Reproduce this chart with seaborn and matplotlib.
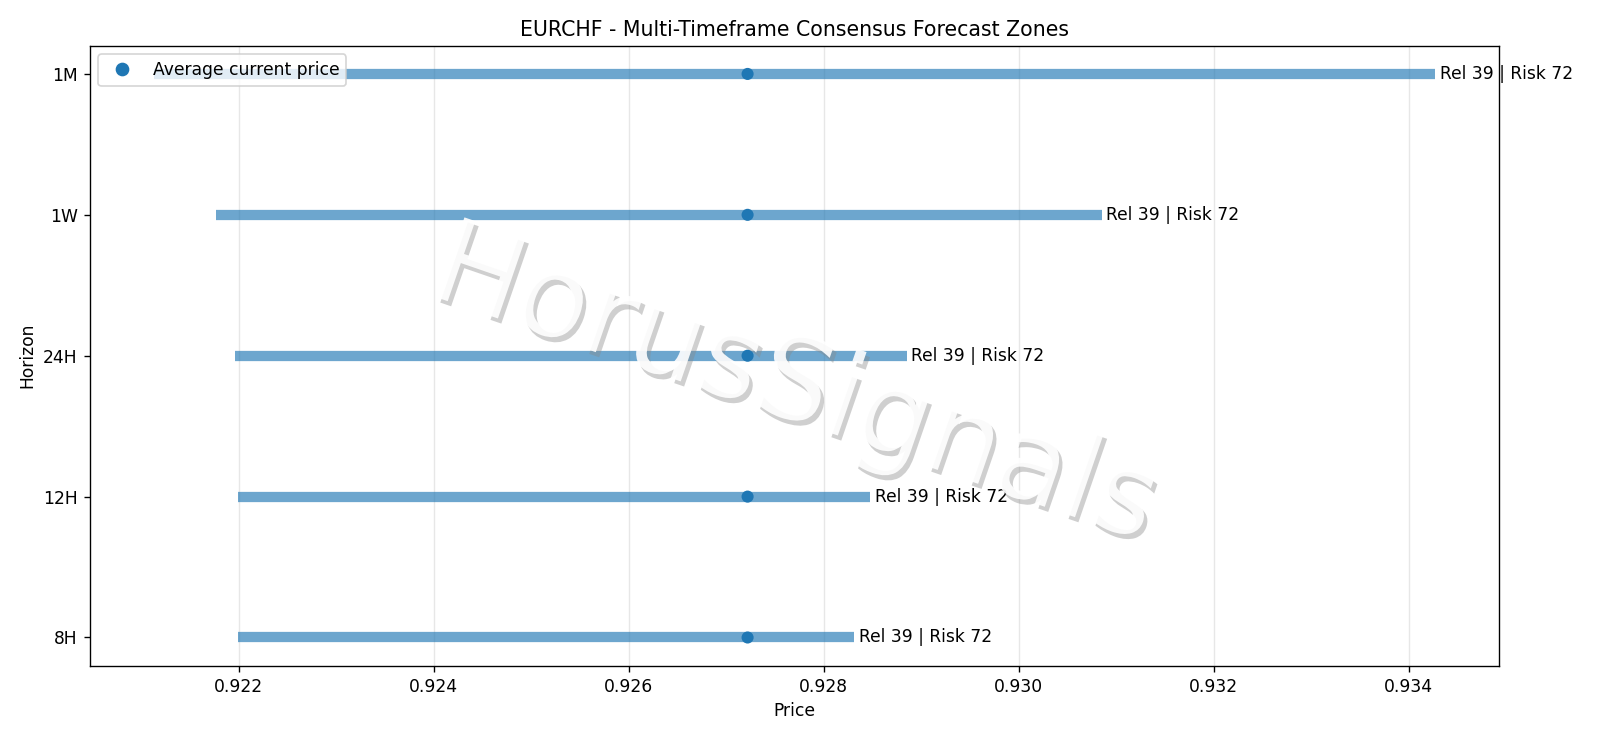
import matplotlib
matplotlib.use("Agg")
import matplotlib.pyplot as plt
import matplotlib.patheffects as pe
from matplotlib.lines import Line2D
import seaborn as sns
import pandas as pd

horizons = ["8H", "12H", "24H", "1W", "1M"]
low = [0.92199, 0.92199, 0.92196, 0.92177, 0.92113]
high = [0.92831, 0.92848, 0.92885, 0.93085, 0.93427]
current = [0.92722, 0.92722, 0.92722, 0.92722, 0.92722]
labels = ["Rel 39 | Risk 72"] * 5

df = pd.DataFrame({"horizon": horizons, "low": low, "high": high, "current": current,
                   "label": labels, "pos": range(len(horizons))})

DPI = 123
fig, ax = plt.subplots(figsize=(1600 / DPI, 738 / DPI), dpi=DPI)
ax.hlines(df["pos"], df["low"], df["high"], color="#1f77b4", alpha=0.65, linewidth=6)
sns.scatterplot(data=df, x="current", y="pos", ax=ax, color="#1f77b4", s=50,
                edgecolor="none", legend=False, zorder=3)
for _, r in df.iterrows():
    ax.text(r["high"] + 0.00005, r["pos"], r["label"], va="center", ha="left", fontsize=10)

ax.set_yticks(df["pos"])
ax.set_yticklabels(horizons)
ax.set_xlabel("Price")
ax.set_ylabel("Horizon")
ax.set_title("EURCHF - Multi-Timeframe Consensus Forecast Zones", fontsize=12)
ax.grid(True, axis="x", alpha=0.3)
ax.grid(False, axis="y")
handle = Line2D([], [], marker="o", linestyle="none", color="#1f77b4", markersize=7)
ax.legend(handles=[handle], labels=["Average current price"], loc="upper left")

ax.text(0.5, 0.45, "HorusSignals", transform=ax.transAxes, fontsize=68, color="white",
        alpha=0.9, rotation=-19, ha="center", va="center", zorder=5,
        path_effects=[pe.withSimplePatchShadow(offset=(2, -3), shadow_rgbFace="#888888", alpha=0.4)])

fig.subplots_adjust(left=0.056, right=0.937, top=0.938, bottom=0.098)
fig.savefig("out.png", dpi=DPI)
